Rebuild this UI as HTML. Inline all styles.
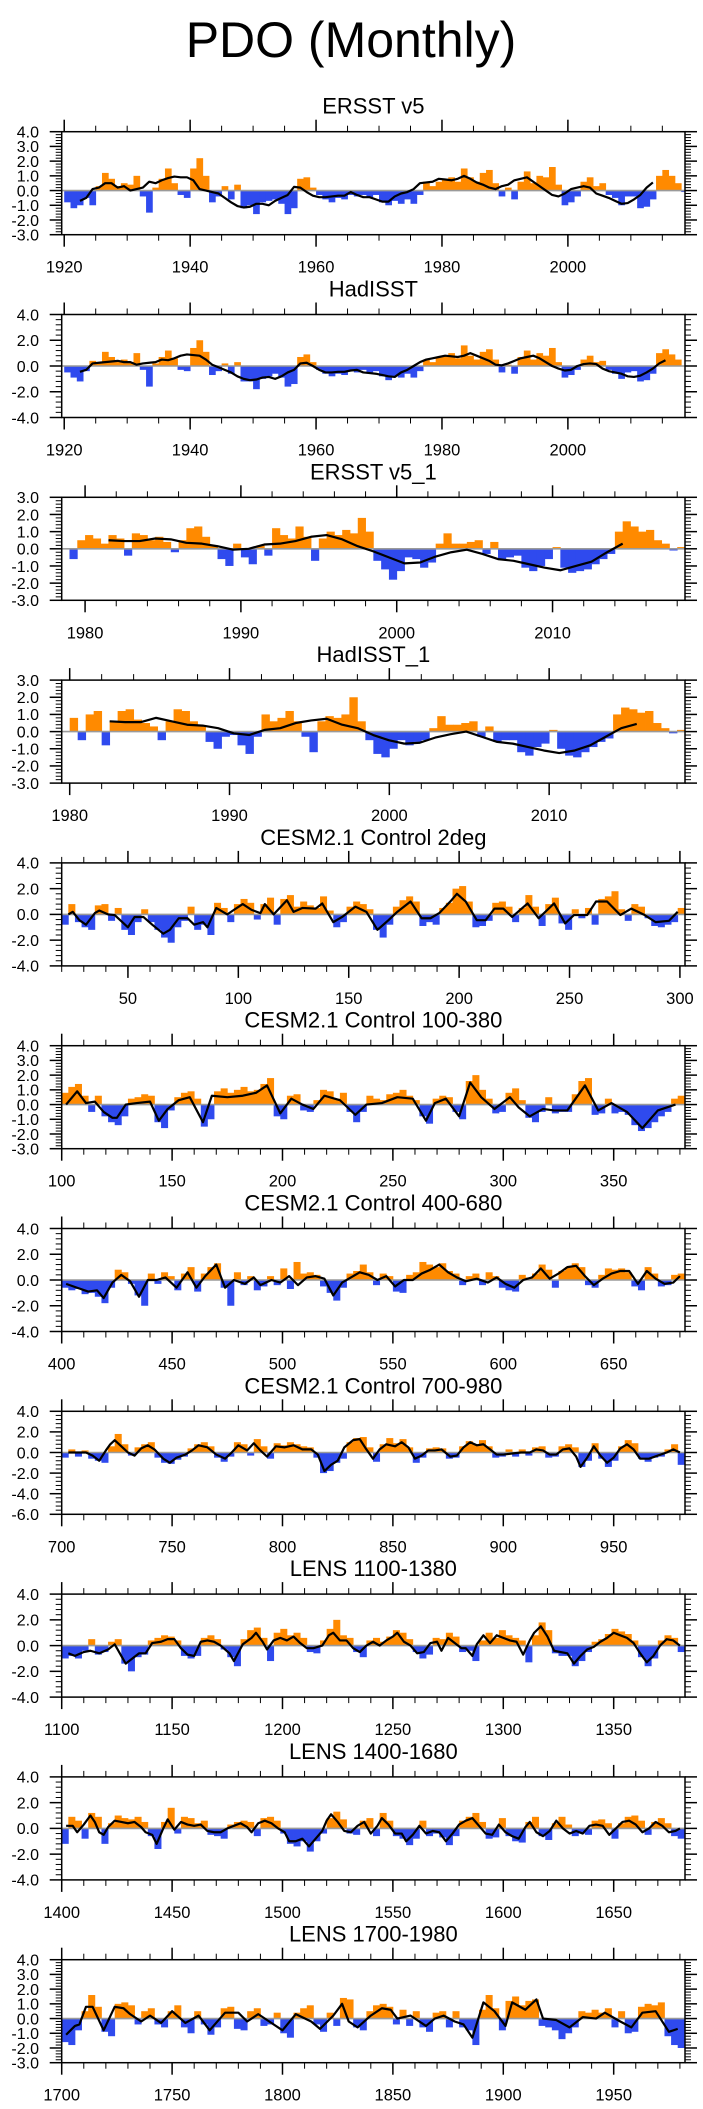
<!DOCTYPE html>
<html><head><meta charset="utf-8"><title>PDO (Monthly)</title>
<style>
html,body{margin:0;padding:0;background:#fff;}
svg{display:block;font-family:"Liberation Sans",Arial,sans-serif;}
</style></head>
<body>
<svg id="chart" width="703" height="2109" viewBox="0 0 703 2109" xmlns="http://www.w3.org/2000/svg">
<rect x="0" y="0" width="703" height="2109" fill="#fff"/>
<text x="351" y="57" font-size="50" text-anchor="middle" fill="#000">PDO (Monthly)</text>
</svg>
<script>
// ---------- Panel 1: ERSST v5 ----------
const p1BarStart = 1920, p1BarStep = 1;
const p1Bars = [-0.8,-1.2,-1.0,-0.5,-1.0,0.3,1.2,0.8,0.3,0.5,0.4,1.0,-0.4,-1.5,0.2,0.8,1.5,0.5,-0.3,-0.5,1.5,2.2,1.0,-0.8,-0.4,0.3,-0.6,0.4,-1.2,-1.0,-1.6,-0.8,-0.7,-0.6,-0.9,-1.6,-1.2,0.8,0.9,0.2,-0.3,-0.6,-0.8,-0.5,-0.6,-0.3,-0.4,-0.3,-0.5,-0.3,-0.8,-1.0,-0.7,-0.9,-0.6,-0.9,-0.3,0.6,0.3,0.6,0.8,0.9,0.6,1.5,0.9,0.6,1.2,1.4,0.5,-0.4,0.2,-0.6,0.6,1.3,0.5,1.0,0.9,1.6,0.4,-1.0,-0.8,-0.4,0.6,0.9,0.3,0.5,-0.3,-0.5,-1.0,-0.4,-0.4,-1.2,-1.1,-0.6,1.0,1.4,1.0,0.5,-0.1];
const p1SmStart = 1922.5, p1SmStep = 1;
const p1Smooth = [-0.7,-0.5,0.1,0.2,0.5,0.5,0.2,0.3,0,0.1,0.2,0.6,0.5,0.7,0.85,0.95,0.9,0.9,0.7,0.1,0,-0.1,-0.2,-0.5,-0.8,-1.05,-1.15,-1.1,-0.9,-0.9,-1.0,-0.7,-0.5,-0.3,0.25,0.2,-0.1,-0.35,-0.45,-0.45,-0.4,-0.35,-0.35,-0.1,-0.3,-0.45,-0.45,-0.6,-0.75,-0.75,-0.4,-0.2,-0.1,0.1,0.5,0.55,0.6,0.8,0.75,0.7,0.8,1.0,0.8,0.55,0.4,0.2,0.1,0.3,0.4,0.7,0.8,0.9,0.6,0.3,0,-0.3,-0.4,-0.2,0.1,0.2,0.3,0.2,-0.2,-0.35,-0.5,-0.7,-0.9,-0.85,-0.6,-0.3,0.2,0.55];

// ---------- Panel 2: HadISST ----------
const p2BarStart = 1920, p2BarStep = 1;
const p2Bars = [-0.5,-0.9,-1.2,-0.4,0.4,0.3,1.1,0.7,0.4,0.5,0.3,1.0,-0.3,-1.6,0.2,0.7,1.2,0.6,-0.3,-0.4,1.4,2.0,1.1,-0.7,-0.4,0.2,-0.6,0.3,-1.2,-1.2,-1.8,-1.0,-0.8,-0.6,-0.9,-1.6,-1.4,0.7,0.9,0.3,-0.3,-0.6,-0.8,-0.6,-0.7,-0.4,-0.5,-0.3,-0.5,-0.4,-0.8,-1.1,-0.8,-0.9,-0.6,-0.9,-0.4,0.5,0.3,0.7,0.8,1.0,0.6,1.6,0.8,0.5,1.1,1.3,0.5,-0.5,0.1,-0.6,0.7,1.2,0.5,1.0,0.8,1.4,0.3,-0.9,-0.7,-0.3,0.5,0.8,0.3,0.4,-0.3,-0.6,-1.0,-0.5,-0.4,-1.2,-1.1,-0.6,1.0,1.3,0.9,0.5];
const p2SmStart = 1922.5, p2SmStep = 1;
const p2Smooth = [-0.45,-0.3,0.2,0.25,0.3,0.35,0.4,0.3,0.3,0.1,0.2,0.25,0.3,0.5,0.45,0.6,0.8,0.9,0.85,0.8,0.5,0.1,-0.1,-0.3,-0.5,-0.8,-1.0,-1.1,-1.05,-0.9,-0.85,-1.0,-0.8,-0.5,-0.3,0.2,0.25,0,-0.3,-0.5,-0.5,-0.45,-0.45,-0.35,-0.3,-0.5,-0.55,-0.6,-0.7,-0.8,-0.85,-0.5,-0.3,0,0.3,0.5,0.6,0.7,0.8,0.75,0.7,0.8,1.0,0.8,0.6,0.4,0.1,0.05,0.2,0.4,0.6,0.7,0.8,0.6,0.3,0,-0.2,-0.35,-0.3,0,0.15,0.2,0.15,-0.2,-0.4,-0.5,-0.6,-0.8,-0.85,-0.75,-0.5,-0.2,0.2,0.45];

// ---------- Panel 3: ERSST v5_1 ----------
const p3BarStart = 1979, p3BarStep = 0.5;
const p3Bars = [-0.6,0.5,0.8,0.6,0.3,0.8,0.6,-0.4,0.9,0.8,0.5,0.7,0.4,-0.2,0.5,1.2,1.3,0.7,0.2,-0.6,-1.0,0.3,-0.5,-0.9,0.2,-0.4,1.2,0.8,0.6,1.3,0.7,-0.7,0.6,1.0,0.8,1.1,0.9,1.8,1.0,-0.7,-1.2,-1.8,-1.3,-0.5,-0.6,-1.1,-0.8,0.3,0.9,0.3,0.3,0.4,0.5,-0.3,0.4,-0.6,-0.5,-0.4,-1.1,-1.3,-1.0,-0.6,0.1,-1.1,-1.4,-1.3,-1.2,-0.9,-0.6,-0.3,1.0,1.6,1.3,1.0,1.1,0.5,0.3,-0.1,0.1,0.0];
const p3SmStart = 1981.5, p3SmStep = 1;
const p3Smooth = [0.5,0.45,0.45,0.6,0.55,0.35,0.3,0.15,-0.05,0,0.25,0.3,0.45,0.7,0.8,0.55,0.15,-0.15,-0.5,-0.85,-0.8,-0.45,-0.2,-0.05,-0.3,-0.6,-0.7,-0.9,-1.1,-1.25,-1.0,-0.75,-0.2,0.3];

// ---------- Panel 4: HadISST_1 ----------
const p4BarStart = 1980, p4BarStep = 0.5;
const p4Bars = [0.8,-0.5,1.0,1.2,-0.8,0.6,1.2,1.3,0.7,0.5,0.3,-0.5,0.6,1.3,1.2,0.6,0.3,-0.6,-1.0,-0.3,-0.2,-0.8,-1.3,-0.3,1.0,0.6,0.8,1.2,0.6,-0.3,-1.2,0.6,0.9,0.8,1.0,2.0,0.6,-0.5,-1.3,-1.5,-1.0,-0.5,-0.8,-0.6,-0.5,0.2,0.9,0.4,0.4,0.5,0.6,-0.3,0.3,-0.6,-0.5,-0.5,-1.2,-1.4,-0.9,-0.7,0.1,-1.0,-1.4,-1.5,-1.2,-0.9,-0.6,-0.4,1.0,1.4,1.3,1.1,1.2,0.5,0.2,-0.1,0.1,0.1];
const p4SmStart = 1982.5, p4SmStep = 0.97;
const p4Smooth = [0.6,0.55,0.55,0.8,0.6,0.4,0.35,0.2,-0.1,-0.2,0.1,0.2,0.5,0.65,0.75,0.4,0.2,-0.2,-0.5,-0.7,-0.65,-0.35,-0.15,0,-0.3,-0.6,-0.7,-0.9,-1.1,-1.25,-1.1,-0.8,-0.3,0.2,0.45];

// ---------- Panel 5: CESM2.1 Control 2deg ----------
const p5BarStart = 20, p5BarStep = 3;
const p5Bars = [-0.8,0.8,-0.6,-1.0,-1.2,0.7,0.8,-0.5,0.5,-1.2,-1.6,-0.6,0.4,-0.6,-1.2,-1.8,-2.2,-1.0,-0.5,0.6,-1.2,-0.8,-1.6,0.9,0.5,-0.6,0.8,1.2,0.9,-0.4,0.8,1.3,-0.8,1.2,1.5,0.6,1.0,0.7,0.5,1.4,0.3,-1.0,-0.6,0.6,1.0,0.8,0.4,-1.2,-1.8,-0.8,0.6,1.1,1.4,1.0,-0.9,-0.6,-0.8,0.5,0.9,2.0,2.2,1.0,-1.0,-0.9,-0.5,0.9,1.0,0.6,-0.6,0.5,1.5,0.6,-0.9,0.8,1.3,-0.7,-1.2,0.4,-0.3,0.5,-0.8,1.2,1.4,1.8,0.4,-0.5,0.8,0.6,-0.3,-0.9,-1.0,-0.8,-0.6,0.5];
const p5SmYears = [23,25,28,31,35,37,41,44,50,53,57,61,66,69,73,77,80,84,86,90,95,98,102,106,110,112,116,122,125,129,135,138,143,147,153,158,163,168,172,178,183,187,191,196,199,203,208,212,216,220,224,231,236,243,248,252,258,262,267,273,278,284,289,295,299];
const p5SmVals = [0,0.2,-0.45,-0.8,0.1,0.3,0,-0.05,-1.0,-0.2,-0.2,-0.8,-1.5,-1.2,-0.3,-0.3,-0.8,-0.6,-1.0,0.5,0,0.35,0.8,0.35,0.1,0.8,0,1.1,0.2,0.5,0.45,0.85,-0.6,-0.2,0.6,0.2,-1.2,-0.45,0.2,1.0,-0.3,-0.3,0.1,1.0,1.6,1.0,-0.45,-0.45,0.45,0.45,-0.2,0.85,-0.3,0.85,-0.7,-0.05,-0.05,1.0,1.0,-0.05,0.45,-0.05,-0.6,-0.5,0.2];

// ---------- Panel 6: CESM2.1 Control 100-380 ----------
const p6BarStart = 100, p6BarStep = 3;
const p6Bars = [0.8,1.2,1.4,0.6,-0.5,0.6,-0.8,-1.2,-1.4,-0.8,0.4,0.5,0.7,0.6,-1.2,-1.6,-0.4,0.5,0.8,0.9,0.4,-1.5,-1.0,0.9,1.1,0.8,1.0,1.2,0.9,1.0,1.4,1.8,-0.8,-1.0,0.6,0.7,-0.4,-0.5,0.3,1.0,0.9,0.4,0.8,-0.5,-1.2,-0.5,0.6,0.4,0.3,0.7,0.8,1.0,0.6,0.3,-0.8,-1.3,0.4,0.6,0.5,-0.5,-1.0,1.6,2.0,1.0,0.4,-0.6,-0.5,0.8,1.1,0.3,-0.9,-1.2,-0.5,0.5,-0.6,-0.5,-0.5,0.7,1.6,1.8,-0.7,-0.6,0.4,-0.6,-0.5,-0.7,-1.4,-1.8,-1.6,-1.2,-0.8,-0.5,0.4,0.6];
const p6SmYears = [102,107,111,115,119,123,125,129,134,140,144,148,153,158,164,168,175,182,188,193,199,204,209,214,219,226,233,238,245,252,259,265,269,274,280,285,290,296,303,307,312,318,323,329,337,343,349,356,363,370,378];
const p6SmVals = [0,0.9,0.1,0.2,-0.5,-0.9,-0.9,0,0.1,0.2,-1.1,-0.3,0.3,0.5,-1.2,0.6,0.5,0.6,0.8,1.3,-0.6,0.4,0,-0.3,0.6,0.3,-0.7,0,0.1,0.5,0.4,-1.1,0.1,0.4,-0.8,1.5,0.5,-0.3,0.5,-0.2,-0.8,-0.3,-0.4,-0.4,1.3,-0.4,0.1,-0.5,-1.6,-0.4,0];

// ---------- Panel 7: CESM2.1 Control 400-680 ----------
const p7BarStart = 400, p7BarStep = 3;
const p7Bars = [-0.6,-0.8,-0.7,-1.1,-1.0,-1.3,-1.8,-0.6,0.8,0.6,-0.3,-1.2,-2.0,0.5,-0.3,0.6,0.3,-0.8,0.5,1.0,-0.9,0.5,1.0,1.3,-0.6,-2.0,0.6,-0.4,0.3,-0.8,-0.5,0.3,-0.4,0.9,-0.7,1.4,0.5,0.6,0.4,-0.5,-1.0,-1.6,-0.6,0.5,0.7,1.2,0.6,-0.4,0.5,0.3,-0.9,-1.0,0.4,0.6,1.4,1.2,1.0,1.3,0.7,0.5,-0.4,0.3,0.5,-0.4,0.6,0.3,-0.6,-0.8,-0.9,0.4,0.2,0.5,1.2,0.8,-0.6,0.7,1.0,1.3,1.0,-0.4,-0.6,0.4,0.9,0.8,0.9,0.6,-0.5,-0.8,1.0,0.5,-0.5,-0.4,0.4,0.5];
const p7SmYears = [402,407,412,416,419,423,427,431,435,439,443,447,452,457,461,465,470,474,478,483,487,490,495,499,503,507,511,515,519,523,527,531,535,539,543,547,551,555,559,563,567,571,575,579,583,588,593,597,601,605,609,613,617,621,625,629,633,637,641,645,649,653,657,661,665,669,673,677,680];
const p7SmVals = [-0.3,-0.6,-0.9,-0.8,-1.4,-0.2,0.4,-0.1,-1.3,0,0,0.2,-0.6,0.6,-0.6,0.3,1.2,-0.6,0,-0.3,0.2,-0.4,0,-0.2,0.3,-0.4,0.2,0.3,0.1,-1.2,-0.2,0.2,0.6,0.4,0,0.3,-0.5,0,0,0.5,0.8,1.2,0.6,0.2,-0.1,0.1,-0.2,0.2,-0.3,-0.6,0,0.2,0.9,0.1,0.5,1.0,1.1,0.3,-0.4,0.1,0.5,0.7,0.7,-0.3,0.7,0.1,-0.3,-0.2,0.3];

// ---------- Panel 8: CESM2.1 Control 700-980 ----------
const p8BarStart = 700, p8BarStep = 3;
const p8Bars = [-0.5,0.3,-0.4,0.2,-0.6,-0.8,-1.0,0.6,1.8,0.8,-0.3,0.5,0.8,1.0,-0.5,-1.0,-1.1,-0.7,-0.4,0.4,0.8,1.0,0.6,-0.5,-0.9,-0.4,1.0,0.8,-0.3,1.3,0.6,-0.6,0.9,0.7,1.0,0.8,0.6,0.5,-0.5,-2.0,-1.8,-1.0,-0.6,1.0,1.4,1.5,0.5,-0.9,0.8,1.4,0.9,1.3,0.5,-1.0,-0.5,0.4,0.5,0.4,-0.6,-0.5,0.6,1.1,0.8,1.2,0.6,-0.5,-0.4,0.3,-0.4,0.3,-0.3,0.5,0.6,-0.5,-0.4,0.6,0.8,0.5,-1.4,-0.8,0.9,-0.6,-1.4,-0.8,0.6,1.2,0.9,-0.6,-0.9,-0.5,-0.4,0.3,0.8,-1.2];
const p8SmYears = [703,707,711,714,717,720,722,724,727,730,733,736,739,742,746,749,752,756,759,762,766,770,774,777,780,784,787,790,793,797,801,805,809,813,816,819,822,825,828,832,835,838,841,844,847,851,854,857,860,863,866,869,872,876,879,882,885,888,891,894,897,900,904,908,912,915,918,921,924,927,930,933,935,938,941,944,947,950,953,956,959,962,966,970,974,977,980];
const p8SmVals = [0,0,0,-0.3,-0.8,0.2,0.8,1.2,0.6,0,-0.3,0.4,0.7,0.3,-0.6,-1.0,-0.5,-0.2,0.2,0.7,0.5,-0.2,-0.6,0,0.7,0.2,0.9,0.2,-0.4,0.6,0.5,0.7,0.3,0.3,-0.2,-1.8,-1.2,-0.8,0.5,1.2,1.3,0.3,-0.6,0.3,0.8,0.6,1.0,0.5,-0.6,-0.3,0.2,0.2,0.3,-0.4,-0.3,0.5,1.0,0.7,0.8,0.3,-0.2,-0.2,-0.1,0,0,0.3,0.2,-0.2,-0.2,0.3,0.4,-0.4,-1.4,-0.5,0.6,-0.3,-1.0,-0.5,0.4,0.8,0.3,-0.6,-0.6,-0.3,0,0.3,0];

// ---------- Panel 9: LENS 1100-1380 ----------
const p9BarStart = 1100, p9BarStep = 3;
const p9Bars = [-1.0,-0.8,-1.0,-0.4,0.5,-0.7,-0.5,0.3,0.5,-1.4,-2.0,-0.9,-0.7,0.4,0.6,0.8,0.7,0.4,-0.8,-1.0,-0.8,0.6,0.8,0.5,-0.3,-0.9,-1.6,0.5,1.2,1.4,0.6,-1.2,1.0,1.3,0.8,1.0,0.6,-0.5,-0.6,0.4,1.3,2.0,0.8,0.6,-0.5,-0.9,0.4,0.6,0.3,0.7,1.2,1.0,0.5,-0.5,-1.0,-0.7,0.6,0.5,1.0,0.7,-0.5,-0.4,-1.2,0.4,1.0,0.6,1.2,0.8,0.6,0.4,-1.3,0.8,1.8,1.2,-0.6,-0.8,-0.8,-1.6,-1.2,-0.5,0.3,0.5,0.9,1.3,1.1,0.9,0.4,-0.9,-1.6,-1.0,0.4,0.8,0.6,-0.5];
const p9SmYears = [1103,1106,1110,1113,1117,1121,1124,1127,1129,1132,1135,1138,1141,1145,1148,1151,1154,1157,1160,1163,1166,1169,1172,1176,1178,1182,1186,1188,1191,1193,1196,1199,1202,1205,1208,1211,1214,1218,1221,1223,1226,1229,1232,1235,1238,1241,1244,1247,1250,1252,1255,1258,1261,1264,1267,1270,1272,1275,1278,1281,1283,1286,1288,1291,1294,1297,1300,1303,1306,1309,1312,1314,1317,1320,1323,1326,1329,1332,1335,1338,1341,1344,1347,1350,1353,1356,1359,1362,1365,1368,1371,1374,1377,1380];
const p9SmVals = [-0.6,-0.8,-0.5,-0.4,-0.6,-0.3,0.1,-0.8,-1.4,-1.0,-0.6,-0.6,0.2,0.3,0.5,0.5,-0.2,-0.7,-0.8,0.3,0.4,0.3,0,-0.6,-1.2,0.1,0.6,1.0,0.3,-0.3,0.4,0.6,0.4,0.7,0.2,-0.2,-0.2,0,0.8,1.0,0.4,0.4,-0.2,-0.5,0,0.3,0,0.4,0.7,1.0,0.3,0,-0.6,-0.5,0.2,0.3,-0.4,0.6,0.2,-0.2,-0.2,-0.8,0.1,0.8,0.2,0.8,0.6,0.4,0.3,-0.7,0.4,1.0,1.5,0.7,-0.4,-0.5,-0.6,-1.4,-0.8,-0.3,-0.1,0.3,0.6,1.0,0.8,0.6,0.2,-0.6,-1.3,-0.8,0,0.5,0.4,0];

// ---------- Panel 10: LENS 1400-1680 ----------
const p10BarStart = 1400, p10BarStep = 3;
const p10Bars = [-1.2,0.9,0.6,-0.8,1.2,0.9,-1.2,0.4,1.0,0.8,0.7,0.9,0.5,-0.6,-1.6,0.5,1.6,-0.4,0.9,0.8,0.4,0.6,-0.5,-0.6,-0.8,0.3,0.5,0.6,0.5,-0.6,0.8,0.9,0.6,-0.4,-1.2,-1.4,-1.0,-1.8,-1.0,-0.4,0.8,1.3,0.7,-0.4,-0.5,0.6,0.8,-0.6,1.2,0.6,-0.6,-0.8,-1.3,-0.8,0.6,-0.6,-0.4,-0.7,-1.3,-0.6,0.6,0.9,1.2,0.5,-0.8,-0.7,0.8,-0.6,-1.0,-1.1,0.5,0.9,-0.6,-0.9,0.4,0.9,0.3,-0.6,-0.4,-0.5,0.6,0.7,0.4,-0.8,0.4,0.9,1.0,0.6,-0.5,0.5,0.8,0.4,-0.6,-0.8];
const p10SmYears = [1402,1405,1407,1410,1413,1415,1417,1419,1421,1424,1427,1430,1433,1436,1438,1441,1443,1446,1448,1451,1454,1457,1460,1463,1466,1469,1472,1475,1478,1481,1484,1486,1489,1492,1495,1498,1501,1503,1506,1509,1512,1515,1518,1520,1522,1525,1528,1531,1534,1537,1540,1543,1545,1548,1551,1554,1556,1559,1562,1565,1568,1571,1574,1577,1580,1583,1586,1589,1592,1595,1598,1601,1604,1607,1610,1612,1615,1618,1621,1624,1627,1630,1633,1636,1639,1642,1645,1648,1651,1654,1657,1660,1663,1666,1669,1672,1675,1678,1680];
const p10SmVals = [0.2,0.2,-0.3,0.3,1.0,0.5,-0.3,-0.5,0.1,0.6,0.5,0.4,0.5,0.1,-0.3,-0.5,-1.2,0,0.7,-0.1,0.5,0.3,0.2,0.3,-0.2,-0.3,-0.3,0,0.2,0.4,0.1,-0.3,0.4,0.6,0.4,0,-0.3,-1.0,-1.0,-0.8,-1.4,-0.8,-0.2,0.6,1.1,0.5,-0.2,-0.3,0.2,0.5,-0.4,0.2,0.8,0.3,-0.4,-0.4,-1.0,-0.5,0.2,-0.4,-0.2,-0.3,-1.0,-0.4,0.3,0.6,0.8,0.2,-0.4,-0.5,0.3,-0.3,-0.6,-0.8,0.1,0.5,-0.3,-0.6,-0.2,0.6,0,-0.4,-0.2,-0.4,0.2,0.3,0.2,-0.5,0,0.5,0.6,0.3,-0.3,0,0.5,0.2,-0.3,-0.2,0];

// ---------- Panel 11: LENS 1700-1980 ----------
const p11BarStart = 1700, p11BarStep = 3;
const p11Bars = [-1.6,-1.8,-0.8,0.5,1.6,0.8,-0.9,-1.2,1.0,1.1,0.9,-0.4,0.5,0.7,-0.4,-0.6,0.5,0.9,-0.6,-1.0,0.5,-0.4,-1.1,-0.6,0.7,0.8,-0.7,-0.8,0.5,0.7,-0.5,-0.4,0.4,-1.0,-1.3,0.4,0.7,0.9,-0.4,-0.9,0.4,-0.5,1.4,1.3,-0.6,-0.8,0.5,0.9,1.0,0.8,-0.4,0.6,-0.5,0.5,-0.6,-0.9,0.4,0.5,-0.6,0.5,-0.6,-0.8,-1.8,0.6,1.6,0.7,-0.8,1.2,1.5,0.9,1.2,1.3,-0.5,-0.6,-0.8,-1.4,-1.0,-0.6,0.5,0.4,0.6,0.4,0.7,-0.6,0.5,-1.0,-0.9,0.8,1.0,0.9,1.1,-1.2,-1.8,-2.0];
const p11SmYears = [1702,1706,1708,1711,1714,1719,1724,1728,1731,1736,1740,1745,1750,1756,1762,1767,1774,1780,1784,1789,1794,1800,1806,1813,1817,1823,1827,1830,1834,1840,1845,1849,1852,1858,1865,1869,1873,1878,1882,1886,1891,1896,1901,1904,1910,1915,1918,1924,1930,1936,1942,1946,1953,1958,1963,1969,1975,1979];
const p11SmVals = [-1.1,-0.5,-0.4,0.8,0.8,-0.8,0.8,0.7,0.3,-0.2,0.2,-0.3,0.5,-0.3,0.2,-0.8,0.4,0.4,-0.2,0.3,-0.2,-0.8,0.3,-0.2,-0.7,0.2,1.0,-0.2,-0.6,0.2,0.7,0.6,0,0.2,-0.5,0,0.2,-0.2,-0.4,-1.3,1.1,0.5,-0.5,1.1,0.6,1.3,0,-0.1,-0.6,0.1,0,0.4,-0.2,-0.6,0.4,0.5,-0.9,-0.7];

// ---------- Axis tick labels ----------
const obsTickYears20 = [1920,1940,1960,1980,2000];
const obsTickYears10 = [1980,1990,2000,2010];

// ---------- Layout (not data) ----------
const NS = 'http://www.w3.org/2000/svg';
const svg = document.getElementById('chart');
const BOX_L = 61.7, BOX_R = 685, BOX_H = 103, TOP0 = 131.7, GAP = 182.8;
const ORANGE = '#ff8a00', BLUE = '#2f4aee';

function seqYears(start, step, n){ const a=[]; for(let i=0;i<n;i++) a.push(start+i*step); return a; }
function ticksFrom(a, b, step){ const t=[]; for(let v=a; v<=b+1e-9; v+=step) t.push(Math.round(v*1000)/1000); return t; }

const panels = [
 {name:'ersst-v5', title:'ERSST v5', x0:1919.6, x1:2018.6, ymax:4, ymin:-3, ystep:1, majors:obsTickYears20, minStep:5, minStart:1920,
  bars:p1Bars, barYears:seqYears(p1BarStart,p1BarStep,p1Bars.length), barW:p1BarStep, smX:seqYears(p1SmStart,p1SmStep,p1Smooth.length), smY:p1Smooth},
 {name:'hadisst', title:'HadISST', x0:1919.6, x1:2018.6, ymax:4, ymin:-4, ystep:2, majors:obsTickYears20, minStep:5, minStart:1920,
  bars:p2Bars, barYears:seqYears(p2BarStart,p2BarStep,p2Bars.length), barW:p2BarStep, smX:seqYears(p2SmStart,p2SmStep,p2Smooth.length), smY:p2Smooth},
 {name:'ersst-v5-1', title:'ERSST v5_1', x0:1978.5, x1:2018.5, ymax:3, ymin:-3, ystep:1, majors:obsTickYears10, minStep:2, minStart:1980,
  bars:p3Bars, barYears:seqYears(p3BarStart,p3BarStep,p3Bars.length), barW:p3BarStep, smX:seqYears(p3SmStart,p3SmStep,p3Smooth.length), smY:p3Smooth},
 {name:'hadisst-1', title:'HadISST_1', x0:1979.5, x1:2018.5, ymax:3, ymin:-3, ystep:1, majors:obsTickYears10, minStep:2, minStart:1980,
  bars:p4Bars, barYears:seqYears(p4BarStart,p4BarStep,p4Bars.length), barW:p4BarStep, smX:seqYears(p4SmStart,p4SmStep,p4Smooth.length), smY:p4Smooth},
 {name:'cesm-control-2deg', title:'CESM2.1 Control 2deg', x0:20, x1:302.3, ymax:4, ymin:-4, ystep:2, majors:ticksFrom(50,300,50), minStep:10, minStart:20,
  bars:p5Bars, barYears:seqYears(p5BarStart,p5BarStep,p5Bars.length), barW:p5BarStep, smX:p5SmYears, smY:p5SmVals},
 {name:'cesm-control-100-380', title:'CESM2.1 Control 100-380', x0:100, x1:382.3, ymax:4, ymin:-3, ystep:1, majors:ticksFrom(100,350,50), minStep:10, minStart:100,
  bars:p6Bars, barYears:seqYears(p6BarStart,p6BarStep,p6Bars.length), barW:p6BarStep, smX:p6SmYears, smY:p6SmVals},
 {name:'cesm-control-400-680', title:'CESM2.1 Control 400-680', x0:400, x1:682.3, ymax:4, ymin:-4, ystep:2, majors:ticksFrom(400,650,50), minStep:10, minStart:400,
  bars:p7Bars, barYears:seqYears(p7BarStart,p7BarStep,p7Bars.length), barW:p7BarStep, smX:p7SmYears, smY:p7SmVals},
 {name:'cesm-control-700-980', title:'CESM2.1 Control 700-980', x0:700, x1:982.3, ymax:4, ymin:-6, ystep:2, majors:ticksFrom(700,950,50), minStep:10, minStart:700,
  bars:p8Bars, barYears:seqYears(p8BarStart,p8BarStep,p8Bars.length), barW:p8BarStep, smX:p8SmYears, smY:p8SmVals},
 {name:'lens-1100-1380', title:'LENS 1100-1380', x0:1100, x1:1382.3, ymax:4, ymin:-4, ystep:2, majors:ticksFrom(1100,1350,50), minStep:10, minStart:1100,
  bars:p9Bars, barYears:seqYears(p9BarStart,p9BarStep,p9Bars.length), barW:p9BarStep, smX:p9SmYears, smY:p9SmVals},
 {name:'lens-1400-1680', title:'LENS 1400-1680', x0:1400, x1:1682.3, ymax:4, ymin:-4, ystep:2, majors:ticksFrom(1400,1650,50), minStep:10, minStart:1400,
  bars:p10Bars, barYears:seqYears(p10BarStart,p10BarStep,p10Bars.length), barW:p10BarStep, smX:p10SmYears, smY:p10SmVals},
 {name:'lens-1700-1980', title:'LENS 1700-1980', x0:1700, x1:1982.3, ymax:4, ymin:-3, ystep:1, majors:ticksFrom(1700,1950,50), minStep:10, minStart:1700,
  bars:p11Bars, barYears:seqYears(p11BarStart,p11BarStep,p11Bars.length), barW:p11BarStep, smX:p11SmYears, smY:p11SmVals}
];

function mk(tag, attrs, parent){
  const e = document.createElementNS(NS, tag);
  for (const k in attrs) e.setAttribute(k, attrs[k]);
  (parent || svg).appendChild(e);
  return e;
}

panels.forEach((p, idx) => {
  const top = TOP0 + idx*GAP, bot = top + BOX_H;
  const xs = v => BOX_L + (v - p.x0) / (p.x1 - p.x0) * (BOX_R - BOX_L);
  const ys = v => top + (p.ymax - v) / (p.ymax - p.ymin) * BOX_H;

  const g = mk('g', {});
  
  

  const clipId = 'clip' + idx;
  const cp = mk('clipPath', {id: clipId}, g);
  
  
  const cr = mk('rect', {x: BOX_L, y: top, width: BOX_R - BOX_L, height: BOX_H}, cp);
  
  

  const t = mk('text', {x: (BOX_L + BOX_R)/2, y: top - 18, 'font-size': 22, 'text-anchor': 'middle', fill: '#000'}, g);
  
  
  t.textContent = p.title;

  const barG = mk('g', {'clip-path': 'url(#' + clipId + ')'}, g);
  
  
  const pxW = p.barW / (p.x1 - p.x0) * (BOX_R - BOX_L);
  p.bars.forEach((v, i) => {
    const x = xs(p.barYears[i]);
    const y0 = ys(0), y1 = ys(v);
    const r = mk('rect', {x: x, y: Math.min(y0, y1), width: pxW + 0.4, height: Math.abs(y1 - y0), fill: v >= 0 ? ORANGE : BLUE}, barG);
    
    
  });

  const zl = mk('line', {x1: BOX_L, x2: BOX_R, y1: ys(0), y2: ys(0), stroke: '#9a9a9a', 'stroke-width': 1.6}, g);
  
  

  let d = '';
  p.smX.forEach((yr, i) => { d += (i ? 'L' : 'M') + xs(yr).toFixed(2) + ',' + ys(p.smY[i]).toFixed(2); });
  const sl = mk('path', {d: d, fill: 'none', stroke: '#000', 'stroke-width': 2.2, 'stroke-linejoin': 'round', 'clip-path': 'url(#' + clipId + ')'}, g);
  
  

  const box = mk('rect', {x: BOX_L, y: top, width: BOX_R - BOX_L, height: BOX_H, fill: 'none', stroke: '#000', 'stroke-width': 1.5}, g);
  
  

  ticksFrom(p.minStart, p.x1, p.minStep).forEach(v => {
    if (v < p.x0) return;
    const x = xs(v);
    const a = mk('line', {x1: x, x2: x, y1: bot, y2: bot + 6, stroke: '#000', 'stroke-width': 1}, g);
    
    
    const b = mk('line', {x1: x, x2: x, y1: top, y2: top - 6, stroke: '#000', 'stroke-width': 1}, g);
    
    
  });
  p.majors.forEach(v => {
    const x = xs(v);
    const a = mk('line', {x1: x, x2: x, y1: bot, y2: bot + 12, stroke: '#000', 'stroke-width': 1.5}, g);
    
    
    const b = mk('line', {x1: x, x2: x, y1: top, y2: top - 12, stroke: '#000', 'stroke-width': 1.5}, g);
    
    
    const l = mk('text', {x: x, y: bot + 38, 'font-size': 16.5, 'text-anchor': 'middle', fill: '#000'}, g);
    
    
    l.textContent = String(v);
  });
  const minorStep = p.ystep / 5;
  ticksFrom(p.ymin, p.ymax, minorStep).forEach(v => {
    const y = ys(v);
    const isMajor = Math.abs(v / p.ystep - Math.round(v / p.ystep)) < 1e-6;
    const len = isMajor ? 12 : 6;
    const a = mk('line', {x1: BOX_L, x2: BOX_L - len, y1: y, y2: y, stroke: '#000', 'stroke-width': isMajor ? 1.5 : 1}, g);
    
    
    const b = mk('line', {x1: BOX_R, x2: BOX_R + len, y1: y, y2: y, stroke: '#000', 'stroke-width': isMajor ? 1.5 : 1}, g);
    
    
    if (isMajor) {
      const l = mk('text', {x: 39, y: y + 5.8, 'font-size': 16, 'text-anchor': 'end', fill: '#000'}, g);
      
      
      l.textContent = v.toFixed(1);
    }
  });
});
</script>
</body></html>
